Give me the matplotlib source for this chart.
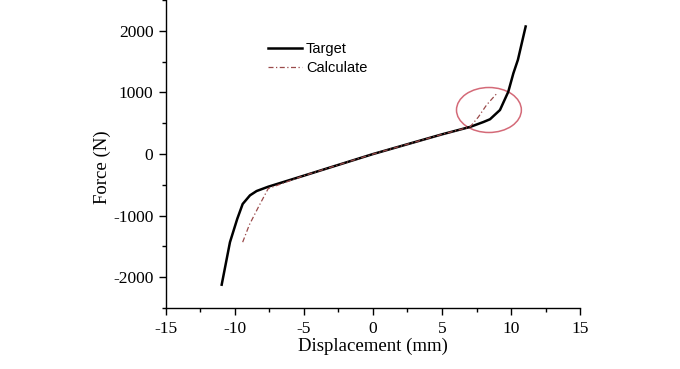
import matplotlib
matplotlib.use('Agg')
import matplotlib.pyplot as plt
from matplotlib.patches import Ellipse
from matplotlib.ticker import MultipleLocator

plt.rcParams['axes.unicode_minus'] = False

# measured force-displacement curve
target_x = [-10.96, -10.36, -9.83, -9.44, -8.91, -8.43, -7.59, -5.0, -2.5, 0.0,
            2.5, 5.0, 7.03, 8.0, 8.48, 9.2, 9.8, 10.17, 10.5, 11.06]
target_y = [-2120, -1430, -1050, -810, -670, -600, -530, -350, -175, 0,
            160, 320, 440, 520, 565, 715, 1010, 1310, 1530, 2070]

# calculated curve
calc_x = [-9.44, -8.96, -8.3, -7.59, -5.0, -2.5, 0.0, 2.5, 5.0, 7.03, 7.63, 8.24, 9.0]
calc_y = [-1430, -1150, -860, -560, -350, -175, 0, 160, 320, 440, 600, 800, 990]

# highlighted region (ellipse centre / size in data units)
circ_center = (8.4, 715)
circ_w, circ_h = 4.7, 730

serif = ['Liberation Serif', 'DejaVu Serif']
sans = ['Liberation Sans', 'DejaVu Sans']

fig = plt.figure(figsize=(6.8, 3.69), dpi=100)
ax = fig.add_axes([0.244, 0.165, 0.609, 0.835])

ax.plot(target_x, target_y, color='black', lw=1.8, label='Target')
ax.plot(calc_x, calc_y, color='#9a4a4a', lw=0.9,
        linestyle=(0, (4, 2, 1, 2)), label='Calculate')

ax.add_patch(Ellipse(circ_center, circ_w, circ_h, fill=False,
                     edgecolor='#d46a78', lw=1.1))

ax.set_xlim(-15, 15)
ax.set_ylim(-2500, 2500)
ax.xaxis.set_major_locator(MultipleLocator(5))
ax.xaxis.set_minor_locator(MultipleLocator(2.5))
ax.yaxis.set_major_locator(MultipleLocator(1000))
ax.yaxis.set_minor_locator(MultipleLocator(500))
ax.set_yticks([-2000, -1000, 0, 1000, 2000])

for s in ['top', 'right']:
    ax.spines[s].set_visible(False)
for s in ['left', 'bottom']:
    ax.spines[s].set_linewidth(1.0)

ax.tick_params(which='major', direction='out', length=5, width=1)
ax.tick_params(which='minor', direction='out', length=3, width=1)
ax.tick_params(axis='x', pad=4)
ax.tick_params(axis='y', pad=4)
for lab in ax.get_xticklabels() + ax.get_yticklabels():
    lab.set_family(serif)
    lab.set_fontsize(12.5)

ax.set_xlabel('Displacement (mm)', family=serif, fontsize=13.5, labelpad=1)
ax.set_ylabel('Force (N)', family=serif, fontsize=13.5)
ax.yaxis.set_label_coords(-0.133, 0.458)

leg = ax.legend(loc='upper left', bbox_to_anchor=(0.215, 0.905), frameon=False,
                prop={'family': sans, 'size': 10.5}, handlelength=2.3,
                handletextpad=0.3, labelspacing=0.3)

fig.savefig('out.png', dpi=100)
